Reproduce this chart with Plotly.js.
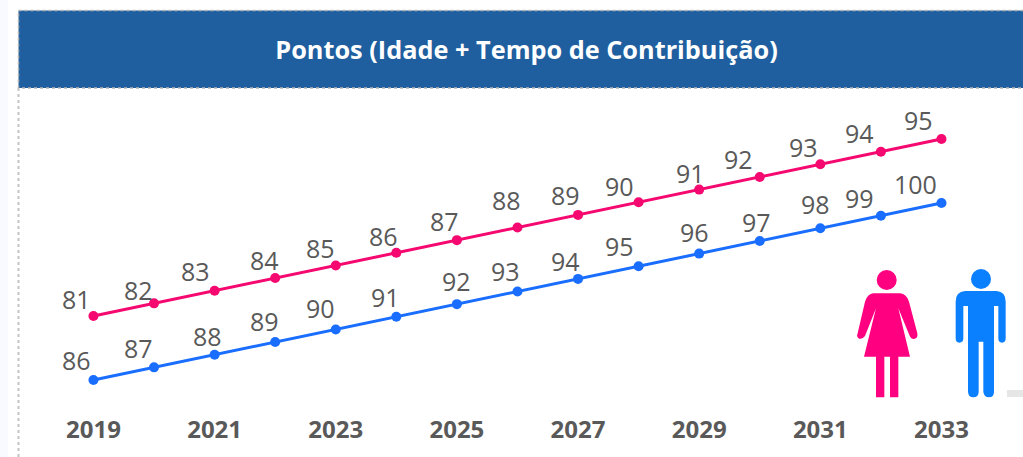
<!DOCTYPE html>
<html>
<head>
<meta charset="utf-8">
<script src="https://cdn.plot.ly/plotly-3.0.1.min.js"></script>
<style>html,body{margin:0;padding:0;background:#fff;overflow:hidden}</style>
</head>
<body>
<div id="chart" style="width:1023px;height:457px"></div>
<script>
var years = [2019,2020,2021,2022,2023,2024,2025,2026,2027,2028,2029,2030,2031,2032,2033];
var mulheres = [81,82,83,84,85,86,87,88,89,90,91,92,93,94,95];
var homens = [86,87,88,89,90,91,92,93,94,95,96,97,98,99,100];
var tickYears = [2019,2021,2023,2025,2027,2029,2031,2033];

// label placement relative to each point (px)
var womenDx = [-17,-16,-19,-11,-15,-13,-12,-11,-13,-19,-9,-21,-17,-21,-23];
var womenDy = [17,13,20,18,17,17,19,28,20,16,17,18,17,19,19];
var menDx = [-17,-16,-7,-11,-15,-11,0,-12,-13,-19,-5,-3,-5,-21,-26];
var menDy = [20,19,19,21,21,20,23,21,18,20,22,19,24,18,19];

var W = 1023, PH = 410;
var PINK = '#f5086f', BLUE = '#1a6eff', ICON_PINK = '#ff0080', ICON_BLUE = '#0a80ff', TXT = '#595959';
var FONT = '"Open Sans", sans-serif';

function px(x){ return x / W; }
function py(y){ return 1 - y / PH; }
function iconPath(d){
  // icon outlines drawn in a local 3x grid anchored at (840,250)
  return d.replace(/(-?[\d.]+),(-?[\d.]+)/g, function(_, a, b){
    return px(840 + a / 3).toFixed(5) + ',' + py(250 + b / 3).toFixed(5);
  });
}
function rect(x0,y0,x1,y1,opts){
  return Object.assign({type:'rect',xref:'paper',yref:'paper',x0:px(x0),x1:px(x1),y0:py(y0),y1:py(y1),layer:'below'},opts);
}
function circle(cx,cy,r,color){
  return {type:'circle',xref:'paper',yref:'paper',x0:px(cx-r),x1:px(cx+r),y0:py(cy+r),y1:py(cy-r),fillcolor:color,line:{width:0},layer:'above'};
}

var womanBody = 'M 100,130 L 180,130 Q 200,132 207,155 L 232,250 Q 235,265 222,267 Q 212,267 208,255 L 175,175 L 210,320 L 175,320 L 175,442 L 150,442 L 150,320 L 133,320 L 133,442 L 108,442 L 108,320 L 72,320 L 108,175 L 75,258 Q 68,268 58,266 Q 48,262 53,250 L 75,155 Q 82,132 100,130 Z';
var manBody = 'M 375,123 L 470,123 Q 497,125 497,155 L 497,265 Q 497,278 486,278 Q 475,278 475,265 L 475,168 L 462,168 L 462,425 Q 462,442 447,442 Q 432,442 430,425 L 430,275 L 416,275 L 416,425 Q 416,442 400,442 Q 385,442 384,425 L 384,168 L 370,168 L 370,265 Q 370,278 358,278 Q 347,278 347,265 L 347,155 Q 347,125 375,123 Z';

var shapes = [
  rect(0,0,8,457,{fillcolor:'#f8faff',line:{width:0}}),
  rect(18.5,10.5,1030,88,{fillcolor:'#1f5f9f',line:{color:'#b5b5b5',width:1.5,dash:'dot'}}),
  {type:'line',xref:'paper',yref:'paper',x0:px(18.5),x1:px(18.5),y0:py(88),y1:py(457),line:{color:'#c4c4c4',width:2,dash:'dot'},layer:'below'},
  rect(1007,390,1023,397,{fillcolor:'#e6e6e6',line:{width:0}}),
  circle(886.7,280,10,ICON_PINK),
  circle(981,279,10,ICON_BLUE),
  {type:'path',xref:'paper',yref:'paper',path:iconPath(womanBody),fillcolor:ICON_PINK,line:{width:0},layer:'above'},
  {type:'path',xref:'paper',yref:'paper',path:iconPath(manBody),fillcolor:ICON_BLUE,line:{width:0},layer:'above'}
];

function labels(xs, ys, dx, dy, yref){
  return ys.map(function(v,i){
    return {x:xs[i],y:v,xref:'x',yref:yref,text:String(v),showarrow:false,xshift:dx[i],yshift:dy[i],
      xanchor:'center',yanchor:'middle',font:{family:FONT,size:25,color:TXT}};
  });
}

var traces = [
  {x:years,y:mulheres,yaxis:'y',type:'scatter',mode:'lines+markers',name:'Mulheres',
   line:{color:PINK,width:3},marker:{color:PINK,size:10},hoverinfo:'x+y'},
  {x:years,y:homens,yaxis:'y2',type:'scatter',mode:'lines+markers',name:'Homens',
   line:{color:BLUE,width:3},marker:{color:BLUE,size:10},hoverinfo:'x+y'}
];

var layout = {
  width:1023,height:457,
  margin:{l:0,r:0,t:0,b:47,pad:0},
  paper_bgcolor:'#ffffff',plot_bgcolor:'rgba(0,0,0,0)',
  showlegend:false,
  title:{text:'<b>Pontos (Idade + Tempo de Contribuição)</b>',xref:'container',yref:'container',
    x:526.5/1023,y:1-50/457,xanchor:'center',yanchor:'middle',font:{family:FONT,size:25.3,color:'#ffffff'}},
  xaxis:{range:[2017.457,2034.346],tickmode:'array',tickvals:tickYears,ticktext:tickYears.map(String),
    showgrid:false,zeroline:false,showline:false,ticks:'',ticklen:0,ticklabelstandoff:3,
    tickfont:{family:FONT,size:24,color:TXT,weight:700},automargin:false},
  yaxis:{range:[73.563,106],visible:false,fixedrange:true},
  yaxis2:{range:[83.627,116.063],overlaying:'y',visible:false,fixedrange:true},
  shapes:shapes,
  annotations:labels(years,mulheres,womenDx,womenDy,'y').concat(labels(years,homens,menDx,menDy,'y2'))
};

Plotly.newPlot('chart',traces,layout,{displayModeBar:false,staticPlot:true});
</script>
</body>
</html>
